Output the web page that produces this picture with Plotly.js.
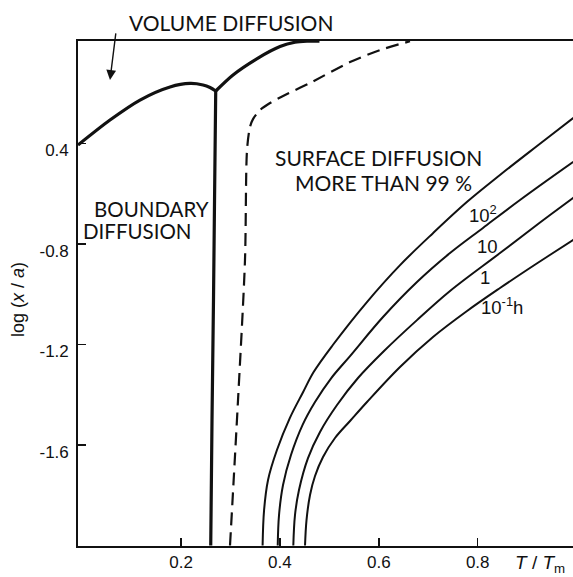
<!DOCTYPE html>
<html>
<head>
<meta charset="utf-8">
<script src="https://cdn.plot.ly/plotly-3.0.1.min.js"></script>
<style>html,body{margin:0;padding:0;background:#fff;}#chart{width:573px;height:577px;}</style>
</head>
<body>
<div id="chart"></div>
<script>
// Volume / boundary diffusion boundary (thick solid): left arc up to the cusp
var volX = [-0.0083, 0.0564, 0.1171, 0.1778, 0.2182, 0.2445, 0.2587, 0.2702];
var volY = [-0.406, -0.3065, -0.227, -0.175, -0.161, -0.167, -0.177, -0.191];
// rising branch from the cusp to the top
var riseX = [0.2702, 0.3052, 0.3557, 0.4002, 0.4305, 0.4548, 0.48];
var riseY = [-0.191, -0.127, -0.060, -0.014, 0.003, 0.007, 0.007];
// Boundary diffusion limit (thick vertical)
var bndX = [0.2702, 0.2678, 0.2657, 0.2627, 0.2601];
var bndY = [-0.191, -0.625, -1.023, -1.500, -2.0];
// Surface diffusion > 99 % limit (dashed)
var surfX = [0.2991, 0.3153, 0.3294, 0.3335, 0.3395, 0.3456, 0.3598, 0.3800, 0.4144, 0.4609, 0.5418, 0.6024, 0.6631];
var surfY = [-2.0, -1.421, -0.864, -0.426, -0.334, -0.303, -0.267, -0.239, -0.203, -0.159, -0.076, -0.028, 0.007];
// Iso-time curves (10^2, 10, 1, 10^-1 h)
var t100X = [0.365, 0.368, 0.376, 0.394, 0.420, 0.447, 0.4682, 0.507, 0.576, 0.643, 0.710, 0.778, 0.845, 0.920, 0.993, 1.0];
var t100Y = [-2.0, -1.859, -1.739, -1.620, -1.493, -1.389, -1.3095, -1.202, -1.031, -0.884, -0.756, -0.633, -0.5254, -0.410, -0.299, -0.288];
var t10X = [0.3956, 0.3982, 0.4063, 0.4224, 0.4459, 0.4710, 0.5039, 0.5418, 0.6085, 0.6772, 0.7440, 0.8107, 0.8855, 0.9927, 1.0];
var t10Y = [-2.0, -1.879, -1.759, -1.640, -1.520, -1.429, -1.3334, -1.246, -1.0906, -0.9513, -0.836, -0.736, -0.625, -0.474, -0.464];
var t1X = [0.4271, 0.4305, 0.4386, 0.4568, 0.4811, 0.5155, 0.5579, 0.6105, 0.6772, 0.7440, 0.8451, 0.9260, 0.9927, 1.0];
var t1Y = [-2.0, -1.879, -1.779, -1.652, -1.548, -1.441, -1.3334, -1.2259, -1.103, -0.987, -0.836, -0.7145, -0.617, -0.607];
var t01X = [0.4508, 0.4538, 0.4609, 0.4710, 0.4872, 0.5114, 0.5418, 0.5761, 0.6429, 0.7096, 0.7784, 0.8451, 0.9179, 0.9927, 1.0];
var t01Y = [-2.0, -1.899, -1.799, -1.7234, -1.6478, -1.5722, -1.5045, -1.4289, -1.2896, -1.1702, -1.0667, -0.9752, -0.8796, -0.7841, -0.7748];

var xTickVals = [0.2, 0.4, 0.6, 0.8];
var xTickText = ['0.2', '0.4', '0.6', '0.8'];
var yTickVals = [-0.4, -0.8, -1.2, -1.6];
var yTickText = ['0.4', '-0.8', '-1.2', '-1.6'];

var curveLabels = ['10<sup>2</sup>', '10', '1', '10<sup>-1</sup>h'];
var curveLabelX = [0.8107, 0.8188, 0.8147, 0.8491];
var curveLabelY = [-0.681, -0.808, -0.935, -1.047];

var ink = '#111';
function line(x, y, w, dash, sm) {
  return {x: x, y: y, type: 'scatter', mode: 'lines', hoverinfo: 'skip',
          line: {color: ink, width: w, dash: dash || 'solid', shape: 'spline', smoothing: sm || 1.0}};
}
var traces = [
  line(volX, volY, 3.2, 'solid', 0.8),
  line(riseX, riseY, 3.2, 'solid', 0.8),
  line(bndX, bndY, 3.2, 'solid', 0.5),
  line(surfX, surfY, 2.2, '13px,7px', 0.8),
  line(t100X, t100Y, 2),
  line(t10X, t10Y, 2),
  line(t1X, t1Y, 2),
  line(t01X, t01Y, 2)
];

var gill = 'Lato, "Open Sans", sans-serif';
var sans = '"Liberation Sans", Arial, sans-serif';
var ann = [
  {xref: 'paper', yref: 'paper', x: 0.3081, y: 1.0376, xanchor: 'center', yanchor: 'middle', text: 'VOLUME DIFFUSION', showarrow: false, font: {family: gill, size: 21, color: ink}},
  {x: 0.0564, y: -0.147, ax: 6, ay: -48, text: '', showarrow: true, arrowhead: 2, arrowsize: 1.4, arrowwidth: 1.4, arrowcolor: ink},
  {x: 0.020, y: -0.659, xanchor: 'left', text: 'BOUNDARY', showarrow: false, font: {family: gill, size: 20.5, color: ink}},
  {x: -0.002, y: -0.748, xanchor: 'left', text: 'DIFFUSION', showarrow: false, font: {family: gill, size: 20.5, color: ink}},
  {x: 0.5994, y: -0.456, text: 'SURFACE DIFFUSION', showarrow: false, font: {family: gill, size: 21, color: ink}},
  {x: 0.6085, y: -0.555, text: 'MORE THAN 99 %', showarrow: false, font: {family: gill, size: 21, color: ink}},
  {xref: 'paper', yref: 'paper', x: 0.9333, y: -0.0356, xanchor: 'center', yanchor: 'middle', text: '<i>T</i> / <i>T</i><sub>m</sub>', showarrow: false, font: {family: sans, size: 19, color: ink}},
  {xref: 'paper', yref: 'paper', x: -0.1212, y: 0.4871, xanchor: 'center', yanchor: 'middle', text: 'log (<i>x</i> / <i>a</i>)', textangle: -90, showarrow: false, font: {family: sans, size: 18, color: ink}}
];
for (var i = 0; i < curveLabels.length; i++) {
  ann.push({x: curveLabelX[i], y: curveLabelY[i], text: curveLabels[i], showarrow: false,
            font: {family: sans, size: 18.5, color: ink}});
}

var layout = {
  width: 573, height: 577,
  margin: {l: 78, r: 0, t: 41, b: 31, pad: 0},
  paper_bgcolor: '#fff', plot_bgcolor: '#fff',
  showlegend: false,
  xaxis: {range: [-0.0083, 0.9927], showgrid: false, zeroline: false, showline: true, mirror: true,
          linecolor: ink, linewidth: 1.8, ticks: 'inside', ticklen: 8, tickwidth: 1.5, tickcolor: ink,
          tickvals: xTickVals, ticktext: xTickText,
          tickfont: {family: sans, size: 17, color: ink}},
  yaxis: {range: [-2.002, 0.008], showgrid: false, zeroline: false, showline: true, mirror: false,
          linecolor: ink, linewidth: 1.8, ticks: 'inside', ticklen: 8, tickwidth: 1.5, tickcolor: ink,
          tickvals: yTickVals, ticktext: yTickText, ticklabelshift: 7, ticklabelstandoff: 4,
          tickfont: {family: sans, size: 17, color: ink}},
  annotations: ann
};
Plotly.newPlot('chart', traces, layout, {staticPlot: true, displayModeBar: false});
</script>
</body>
</html>
